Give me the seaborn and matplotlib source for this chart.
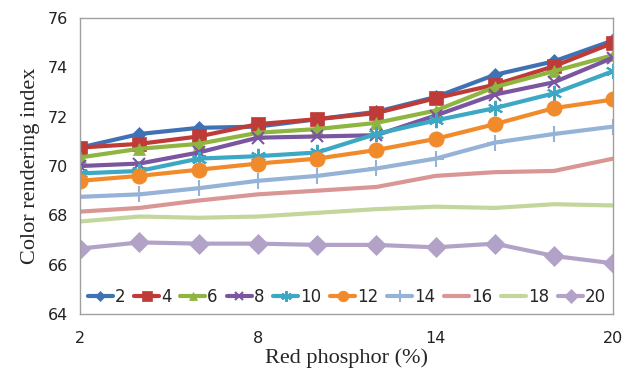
import matplotlib
matplotlib.use("Agg")
import matplotlib.pyplot as plt
import numpy as np
import pandas as pd
import seaborn as sns

# Data
red_phosphor = [2, 4, 6, 8, 10, 12, 14, 16, 18, 20]
series_names = ["2", "4", "6", "8", "10", "12", "14", "16", "18", "20"]
cri_2 = [70.75, 71.3, 71.55, 71.6, 71.9, 72.2, 72.8, 73.7, 74.25, 75.1]
cri_4 = [70.75, 70.9, 71.2, 71.7, 71.9, 72.15, 72.75, 73.3, 74.05, 75.0]
cri_6 = [70.35, 70.7, 70.9, 71.35, 71.5, 71.75, 72.25, 73.2, 73.85, 74.5]
cri_8 = [70.0, 70.1, 70.55, 71.15, 71.2, 71.25, 72.05, 72.9, 73.4, 74.4]
cri_10 = [69.7, 69.8, 70.3, 70.4, 70.55, 71.3, 71.85, 72.35, 72.95, 73.85]
cri_12 = [69.4, 69.6, 69.85, 70.1, 70.3, 70.65, 71.1, 71.7, 72.35, 72.7]
cri_14 = [68.75, 68.85, 69.1, 69.4, 69.6, 69.9, 70.3, 70.95, 71.3, 71.6]
cri_16 = [68.15, 68.3, 68.6, 68.85, 69.0, 69.15, 69.6, 69.75, 69.8, 70.3]
cri_18 = [67.75, 67.95, 67.9, 67.95, 68.1, 68.25, 68.35, 68.3, 68.45, 68.4]
cri_20 = [66.65, 66.9, 66.85, 66.85, 66.8, 66.8, 66.7, 66.85, 66.35, 66.05]
all_cri = [cri_2, cri_4, cri_6, cri_8, cri_10, cri_12, cri_14, cri_16, cri_18, cri_20]

colors = ["#3F72B5", "#BE3B38", "#8DB53F", "#7A55A0", "#3CA8C4",
          "#F08A2A", "#95B3D7", "#D99694", "#C3D69B", "#B3A2C7"]
markers = ["D", "s", "^", "x", (6, 2, 0), "o", "+", "_", "_", "D"]
msizes = [7, 10, 9, 9, 11, 11, 12, 8, 8, 10]
thin_markers = [False, False, False, True, True, False, True, True, True, False]

rows = []
for name, vals in zip(series_names, all_cri):
    for x, y in zip(red_phosphor, vals):
        rows.append({"series": name, "x": x, "y": y})
df = pd.DataFrame(rows)

sns.set_style("white")
fig, ax = plt.subplots(figsize=(6.27, 3.71), dpi=100)
fig.subplots_adjust(left=0.128, right=0.978, top=0.951, bottom=0.154)

for name, c, m, ms, thin in zip(series_names, colors, markers, msizes, thin_markers):
    sub = df[df["series"] == name]
    sns.lineplot(data=sub, x="x", y="y", ax=ax, color=c, marker=m,
                 markersize=ms, linewidth=3, label=name,
                 markeredgecolor=c, markeredgewidth=1.5 if thin else 0.5)

ax.set_xlim(2, 20)
ax.set_ylim(64, 76)
ax.set_xticks([2, 8, 14, 20])
ax.set_yticks([64, 66, 68, 70, 72, 74, 76])
for s in ax.spines.values():
    s.set_color("#A0A0A0")
    s.set_linewidth(1)
ax.tick_params(axis="both", which="major", direction="out", length=5,
               color="#A0A0A0", labelsize=11.5, labelcolor="#222222")
ax.tick_params(axis="x", pad=7)
ax.set_xlabel("Red phosphor (%)", family="Liberation Serif", fontsize=16, labelpad=2)
ax.set_ylabel("Color rendering index", family="Liberation Serif", fontsize=16, labelpad=6)

leg = ax.legend(loc="lower center", ncol=10, frameon=False, fontsize=12,
                handlelength=1.5, handletextpad=0.1, columnspacing=0.55,
                markerscale=0.7, borderaxespad=0.1, bbox_to_anchor=(0.5, 0.0))

fig.savefig("out.png", dpi=100)
